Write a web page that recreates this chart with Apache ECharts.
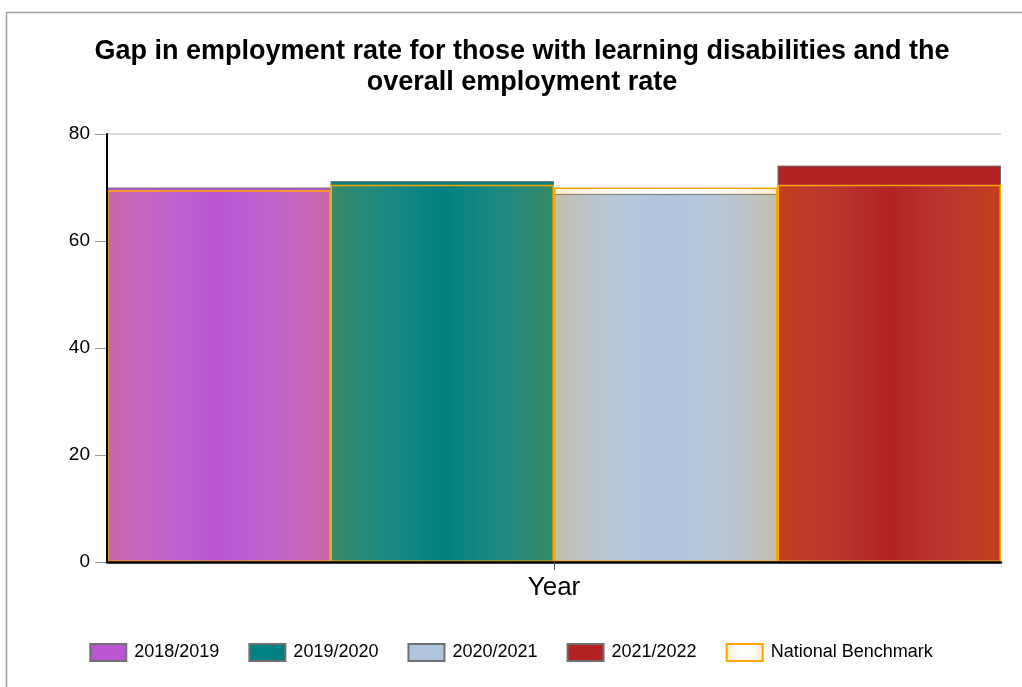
<!DOCTYPE html>
<html>
<head>
<meta charset="utf-8">
<script src="https://cdn.jsdelivr.net/npm/echarts@6/dist/echarts.min.js"></script>
<style>
  html, body { margin: 0; padding: 0; background: #fff; }
  #chart { width: 1022px; height: 687px; }
</style>
</head>
<body>
<div id="chart"></div>
<script>
// Employment rate (%) for people with learning disabilities, by year
const categories = ['Year'];
const seasons = ['2018/2019', '2019/2020', '2020/2021', '2021/2022'];
const rates = [70.0, 71.2, 68.8, 74.1];
const benchmark = [69.5, 70.5, 70.0, 70.5];
const seasonColors = ['#BA55D3', '#008080', '#B0C4DE', '#B22222'];
const yTicks = { min: 0, max: 80, interval: 20 };

const chart = echarts.init(document.getElementById('chart'), null, { renderer: 'canvas' });

// Benchmark overlay: orange tint at the edges fading to clear in the middle
const benchFill = new echarts.graphic.LinearGradient(0, 0, 1, 0, [
  { offset: 0, color: 'rgba(255,165,0,0.22)' },
  { offset: 0.5, color: 'rgba(255,255,255,0)' },
  { offset: 1, color: 'rgba(255,165,0,0.22)' }
]);

const seasonSeries = seasons.map((name, i) => ({
  name: name,
  type: 'bar',
  xAxisIndex: 0,
  yAxisIndex: 0,
  data: [rates[i]],
  barGap: '0%',
  barCategoryGap: '0%',
  itemStyle: { color: seasonColors[i], borderColor: '#707070', borderWidth: 1 },
  emphasis: { disabled: true }
}));

const font = 'Liberation Sans, Arial, sans-serif';

chart.setOption({
  animation: false,
  textStyle: { fontFamily: font, color: '#000' },
  title: {
    text: 'Gap in employment rate for those with learning disabilities and the\noverall employment rate',
    left: 517,
    textAlign: 'center',
    top: 31,
    textStyle: { fontSize: 27, fontWeight: 'bold', color: '#000', lineHeight: 31, fontFamily: font }
  },
  graphic: [{
    type: 'rect',
    shape: { x: 6.5, y: 12.5, width: 1100, height: 1000 },
    style: { fill: 'none', stroke: '#a0a0a0', lineWidth: 1.5 },
    silent: true
  }],
  grid: { left: 107, right: 21, top: 134, bottom: 125 },
  legend: {
    top: 638,
    left: 'center',
    icon: 'rect',
    itemWidth: 36,
    itemHeight: 17,
    itemGap: 29,
    textStyle: { fontSize: 18, color: '#000', fontFamily: font, padding: [0, 0, 0, 3] },
    data: seasons.concat(['National Benchmark'])
  },
  xAxis: [{
    type: 'category',
    data: categories,
    z: 10,
    axisLine: { lineStyle: { color: '#000', width: 2.5 } },
    axisTick: { show: true, alignWithLabel: true, length: 8, lineStyle: { color: '#555' } },
    axisLabel: { fontSize: 26, color: '#000', margin: 13, fontFamily: font }
  }, {
    type: 'category',
    data: seasons,
    show: false
  }],
  yAxis: [{
    type: 'value',
    min: yTicks.min,
    max: yTicks.max,
    interval: yTicks.interval,
    axisLine: { show: false },
    axisTick: { show: true, length: 12, lineStyle: { color: '#999' } },
    axisLabel: { fontSize: 19, color: '#000', margin: 17, fontFamily: font },
    splitLine: { show: true, lineStyle: { color: '#dcdcdc', width: 2 } }
  }, {
    // axis line drawn above the bars
    type: 'value',
    position: 'left',
    min: yTicks.min,
    max: yTicks.max,
    interval: yTicks.interval,
    z: 10,
    axisLine: { show: true, lineStyle: { color: '#000', width: 2 } },
    axisTick: { show: false },
    axisLabel: { show: false },
    splitLine: { show: false }
  }],
  series: seasonSeries.concat([{
    name: 'National Benchmark',
    type: 'bar',
    xAxisIndex: 1,
    yAxisIndex: 0,
    data: benchmark,
    barCategoryGap: '0%',
    z: 5,
    itemStyle: { color: benchFill, borderColor: '#FFA500', borderWidth: 1.5 },
    emphasis: { disabled: true }
  }])
});
</script>
</body>
</html>
